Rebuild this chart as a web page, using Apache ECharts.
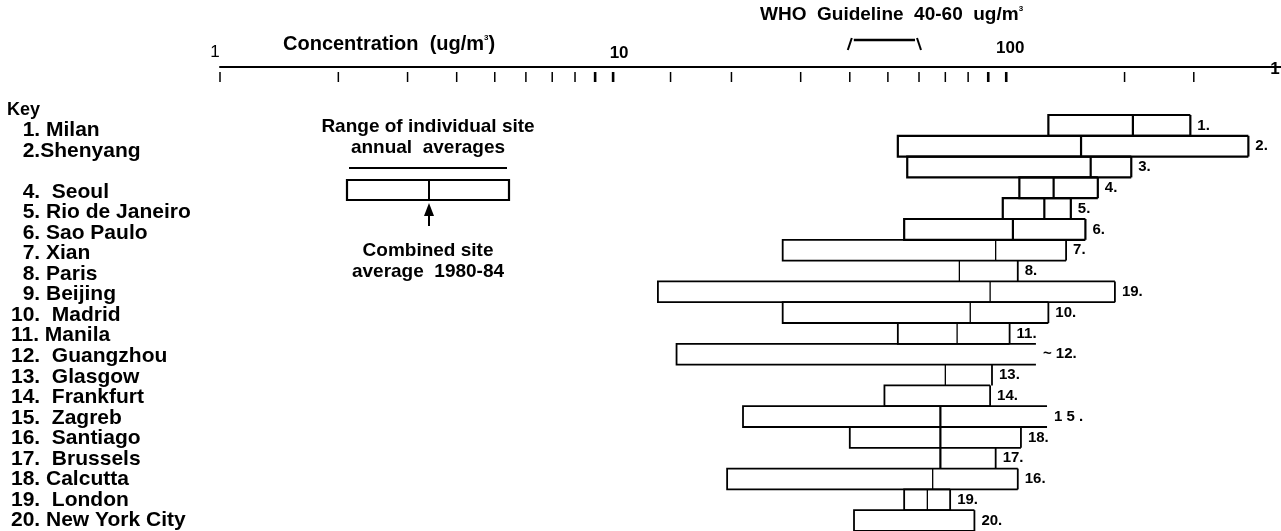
<!DOCTYPE html>
<html><head><meta charset="utf-8">
<script src="https://cdn.jsdelivr.net/npm/echarts@6/dist/echarts.min.js"></script>
<style>html,body{margin:0;padding:0;background:#fff}#c{width:1281px;height:531px}</style>
</head><body><div id="c"></div>
<script>
// ---- data ----
const keyLabels = ['  1. Milan','  2.Shenyang','','  4.  Seoul','  5. Rio de Janeiro','  6. Sao Paulo','  7. Xian','  8. Paris','  9. Beijing','10.  Madrid','11. Manila','12.  Guangzhou','13.  Glasgow','14.  Frankfurt','15.  Zagreb','16.  Santiago','17.  Brussels','18. Calcutta','19.  London','20. New York City'];
const barLabels = ['1.','2.','3.','4.','5.','6.','7.','8.','19.','10.','11.','~ 12.','13.','14.','1 5 .','18.','17.','16.','19.','20.'];
const minValues  = [128, 53, 56, 108, 98, 55, 27, null, 13, 27, 53, 14.5, null, 49, 21.4, 40, null, 19.5, 55, 41];
const meanValues = [210, 155, 164, 132, 125, 104, 94, 76, 91, 81, 75, null, 70, null, 68, 68, 68, 65, 63, null];
const maxValues  = [294, 413, 208, 171, 146, 159, 142, 107, 189, 128, 102, 119, 92, 91, 127, 109, 94, 107, 72, 83];
const tickValues = [1,2,3,4,5,6,7,8,9,10,14,20,30,40,50,60,70,80,90,100,200,300];
const tickLabels = ['1','10','100','1'];
const tickLabelValues = [1,10,100,500];
const whoGuideline = [40, 60];

const FONT = "'Liberation Sans', Arial, sans-serif";
const chart = echarts.init(document.getElementById('c'), null, {renderer:'canvas'});
const openRight = [11, 14];   // rows whose right edge is not drawn in the scan

function barItem(params, api) {
  const i = params.dataIndex;
  const mn = minValues[i], mu = meanValues[i], mx = maxValues[i];
  const yc = api.coord([mx, i])[1];
  const h = api.size([1, 1])[1];
  const top = yc - h / 2, bot = yc + h / 2;
  const xmx = api.coord([mx, i])[0];
  const lw = i < 6 ? 2.2 : 1.8;
  const st = {stroke: '#000', lineWidth: lw, fill: null};
  const ch = [];
  if (mn != null) {
    const xmn = api.coord([mn, i])[0];
    ch.push({type:'polyline', shape:{points:[[xmx, top],[xmn, top],[xmn, bot],[xmx, bot]]}, style: st});
  }
  if (openRight.indexOf(i) < 0) {
    ch.push({type:'line', shape:{x1:xmx, y1:top, x2:xmx, y2:bot}, style: st});
  }
  if (mu != null) {
    const xmu = api.coord([mu, i])[0];
    const thick = i < 6 || (i >= 14 && i <= 16);
    ch.push({type:'line', shape:{x1:xmu, y1:top, x2:xmu, y2:bot}, style:{stroke: '#000', lineWidth: thick ? 2.2 : 1.3}});
  }
  ch.push({type:'text', x: xmx + 7, y: yc, style:{text: barLabels[i], fill:'#000', font:"bold 15px " + FONT, verticalAlign:'middle', align:'left'}});
  return {type:'group', children: ch};
}

function tickItem(params, api) {
  const v = tickValues[params.dataIndex];
  const x = api.coord([v, 0])[0];
  const y0 = params.coordSys.y;
  const bold = (v === 9 || v === 10 || v === 90 || v === 100);
  return {type:'line', shape:{x1:x, y1:y0 - 43, x2:x, y2:y0 - 33}, style:{stroke:'#000', lineWidth: bold ? 2.6 : 1.5}};
}

function tickLabelItem(params, api) {
  const k = params.dataIndex;
  const x = api.coord([tickLabelValues[k], 0])[0];
  const y0 = params.coordSys.y;
  const s = [
    {dx:-5, dy:-63, w:'normal'},
    {dx:6, dy:-62, w:'bold'},
    {dx:4, dy:-67, w:'bold'},
    {dx:-6, dy:-46, w:'bold'}
  ][k];
  return {type:'text', x: x + s.dx, y: y0 + s.dy, style:{text: tickLabels[k], fill:'#000', font: s.w + ' 17px ' + FONT, align:'center', verticalAlign:'middle'}};
}

function whoItem(params, api) {
  const x1 = api.coord([whoGuideline[0], 0])[0];
  const x2 = api.coord([whoGuideline[1], 0])[0];
  const y = params.coordSys.y - 73;
  const st = {stroke:'#000', lineWidth:2};
  return {type:'group', children:[
    {type:'line', shape:{x1:x1-2, y1:y+8, x2:x1+2, y2:y-4}, style:st},
    {type:'line', shape:{x1:x1+4, y1:y-2, x2:x2-4, y2:y-2}, style:{stroke:'#000', lineWidth:2.5}},
    {type:'line', shape:{x1:x2-2, y1:y-4, x2:x2+2, y2:y+8}, style:st}
  ]};
}

const rich = (fs) => ({
  a: {fontSize:fs, fontWeight:'bold', fontFamily:FONT, color:'#000'},
  s: {fontSize:8, fontWeight:'bold', fontFamily:FONT, color:'#000', verticalAlign:'top', lineHeight:fs}
});
const LT = (t, y) => ({type:'text', style:{text:t, x:428, y:y, fill:'#000', font:'bold 19px ' + FONT, align:'center', verticalAlign:'middle'}});

chart.setOption({
  animation: false,
  backgroundColor: '#fff',
  grid: [
    {left: 220, right: 0, top: 115, bottom: 0, containLabel: false},
    {left: 220, right: 0, top: 120, bottom: 0, containLabel: false}
  ],
  xAxis: [{
    gridIndex: 0, type: 'log', min: 1, max: 500, logBase: 10, position: 'top', offset: 48,
    axisLine: {show: true, lineStyle: {color: '#000', width: 2}},
    axisTick: {show: false}, axisLabel: {show: false}, splitLine: {show: false}
  }, {
    gridIndex: 1, type: 'value', show: false
  }],
  yAxis: [{
    gridIndex: 0, type: 'category', inverse: true, data: keyLabels, show: false
  }, {
    gridIndex: 1, type: 'category', inverse: true, data: keyLabels,
    axisLine: {show: false}, axisTick: {show: false}, splitLine: {show: false},
    axisLabel: {interval: 0, align: 'left', margin: 209, color: '#000', fontSize: 21, fontWeight: 'bold', fontFamily: FONT}
  }],
  series: [
    {type:'custom', name:'ranges', renderItem: barItem, clip:false, data: maxValues.map((v, i) => [v, i])},
    {type:'custom', name:'ticks', renderItem: tickItem, clip:false, data: tickValues.map(v => [v, 0])},
    {type:'custom', name:'tickLabels', renderItem: tickLabelItem, clip:false, data: tickLabelValues.map(v => [v, 0])},
    {type:'custom', name:'who', renderItem: whoItem, clip:false, data: [[whoGuideline[0], 0]]}
  ],
  graphic: [
    {type:'text', left: 7, top: 101, style:{text:'Key', fill:'#000', font:'bold 18px ' + FONT}},
    {type:'text', left: 283, top: 34, style:{text:'{a|Concentration  (ug/m}{s|3}{a|)}', rich: rich(20)}},
    {type:'text', left: 760, top: 5, style:{text:'{a|WHO  Guideline  40-60  ug/m}{s|3}', rich: rich(19)}},
    LT('Range of individual site', 127),
    LT('annual  averages', 148),
    {type:'line', shape:{x1:349, y1:168, x2:507, y2:168}, style:{stroke:'#000', lineWidth:2}},
    {type:'rect', shape:{x:347, y:180, width:162, height:20}, style:{stroke:'#000', lineWidth:2.2, fill:null}},
    {type:'line', shape:{x1:429, y1:180, x2:429, y2:200}, style:{stroke:'#000', lineWidth:2}},
    {type:'line', shape:{x1:429, y1:226, x2:429, y2:212}, style:{stroke:'#000', lineWidth:2}},
    {type:'polygon', shape:{points:[[429,203],[424,216],[434,216]]}, style:{fill:'#000'}},
    LT('Combined site', 251),
    LT('average  1980-84', 272)
  ]
});
</script>
</body></html>
